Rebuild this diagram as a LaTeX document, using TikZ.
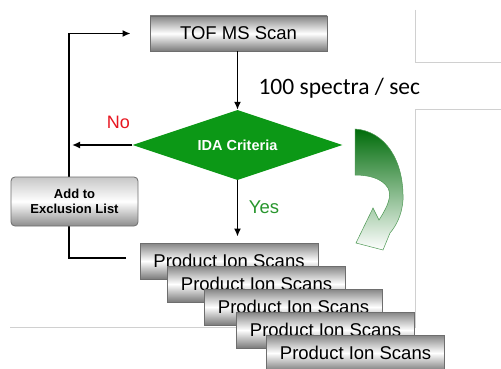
\documentclass[tikz,border=0pt]{standalone}
\usepackage{fontspec}
\setmainfont{Liberation Sans}
\newfontfamily\calib{Carlito}
\usetikzlibrary{calc,arrows.meta,shapes.geometric}
\definecolor{vertida}{RGB}{12,152,22}
\definecolor{vertoui}{RGB}{40,150,45}
\definecolor{rougenon}{RGB}{232,22,32}
\definecolor{vertfonce}{RGB}{0,108,10}
\definecolor{cadre}{RGB}{208,208,208}
\definecolor{bordgris}{RGB}{110,110,110}

\begin{document}
\begin{tikzpicture}[x=1pt,y=-1pt]
    % Flux IDA

    %
    % Définitions
    %
    \pgfmathsetmacro{\xb}{69};%
    \pgfmathsetmacro{\xc}{237.5};%
    \pgfmathsetmacro{\yt}{33.5};%
    \pgfmathsetmacro{\yida}{145};%
    \pgfmathsetmacro{\yl}{258};%
    \pgfmathsetmacro{\xg}{415};%

    %
    % Styles
    %
    \tikzset{boite/.style={draw=bordgris,line width=0.8pt,top color=black!48,%
        bottom color=black!52,middle color=white,minimum width=177pt,%
        minimum height=35pt,inner sep=0pt,font=\fontsize{18.5}{20}\selectfont}};%
    \tikzset{pis/.style={boite,minimum width=178pt,minimum height=36pt}};%
    \tikzset{fleche/.style={line width=1.8pt,-{Latex[length=8pt,width=7pt]}}};%
    \tikzset{trait/.style={line width=1.8pt}};%
    \tikzset{fin/.style={draw=cadre,line width=0.8pt}};%

    % Fond
    \path[use as bounding box,fill=white] (0,0) rectangle (501,369);%

    %
    % Coordonnées
    %
    \coordinate (bh) at (\xb,\yt);%
    \coordinate (bb) at (\xb,\yl);%
    \coordinate (bf) at (126,\yl);%
    \coordinate (bi) at (\xb,\yida);%

    % Cadres gris
    \draw[fin] (\xg,10) -- (\xg,62) -- (501,62);%
    \draw[fin] (501,109) -- (\xg,109) -- (\xg,327) -- (10,327);%

    %
    % Dessin
    %
    % Boucle
    \draw[trait,line join=miter] (bf) -- (bb) -- (bh);%

    \node[boite] (tof) at (238.5,\yt) {TOF MS Scan};%
    \node[diamond,fill=vertida,minimum width=210pt,minimum height=70pt,%
        aspect=3,inner sep=0pt,text=white,%
        font=\bfseries\fontsize{14.5}{16}\selectfont] (ida) at (\xc,\yida) {IDA Criteria};%
    \node[draw=bordgris,line width=0.8pt,rounded corners=4pt,top color=black!22,%
        bottom color=black!45,middle color=white,minimum width=127pt,%
        minimum height=49pt,align=center,%
        font=\bfseries\fontsize{13}{14.5}\selectfont] (excl) at (74.5,201.5)%
        {Add to\\Exclusion List};%

    % Balayages produits
    \node[pis] (pis1) at (229,261) {Product Ion Scans};%
    \node[pis] (pis2) at (256.5,284) {Product Ion Scans};%
    \node[pis] (pis3) at (293.5,307) {Product Ion Scans};%
    \node[pis] (pis4) at (325.5,330) {Product Ion Scans};%
    \node[pis] (pis5) at (355.5,353) {Product Ion Scans};%

    % Flèches
    \draw[fleche] (bh) -- ($(tof.west)+(-19,0)$);%
    \draw[fleche] (tof.south -| ida.north) -- (ida.north);%
    \draw[fleche] (ida.west) -- ($(bi)+(3,0)$);%
    \draw[fleche,shorten >=6pt] (ida.south) -- (ida.south |- pis1.north);%

    % Textes
    \node[font=\calib\fontsize{23.5}{25}\selectfont,anchor=west] (spec) at (255,88) {100 spectra / sec};%
    \node[text=rougenon,font=\fontsize{18}{20}\selectfont] (non) at (118.5,122) {No};%
    \node[text=vertoui,font=\fontsize{18.5}{20}\selectfont] (oui) at (264,207) {Yes};%

    % Flèche courbe
    \shade[draw=vertfonce!70,line width=0.5pt,top color=vertfonce,%
        middle color=vertfonce,bottom color=white]%
        (355,129) .. controls (385,131) and (404,160) .. (403,200)%
        .. controls (402,215) and (396,226) .. (390,233)%
        -- (383,250) -- (356,243) -- (373,208) -- (379,220)%
        .. controls (388,206) and (392,196) .. (388,188)%
        .. controls (382,178) and (368,175) .. (355,175) -- cycle;%

\end{tikzpicture}
\end{document}
